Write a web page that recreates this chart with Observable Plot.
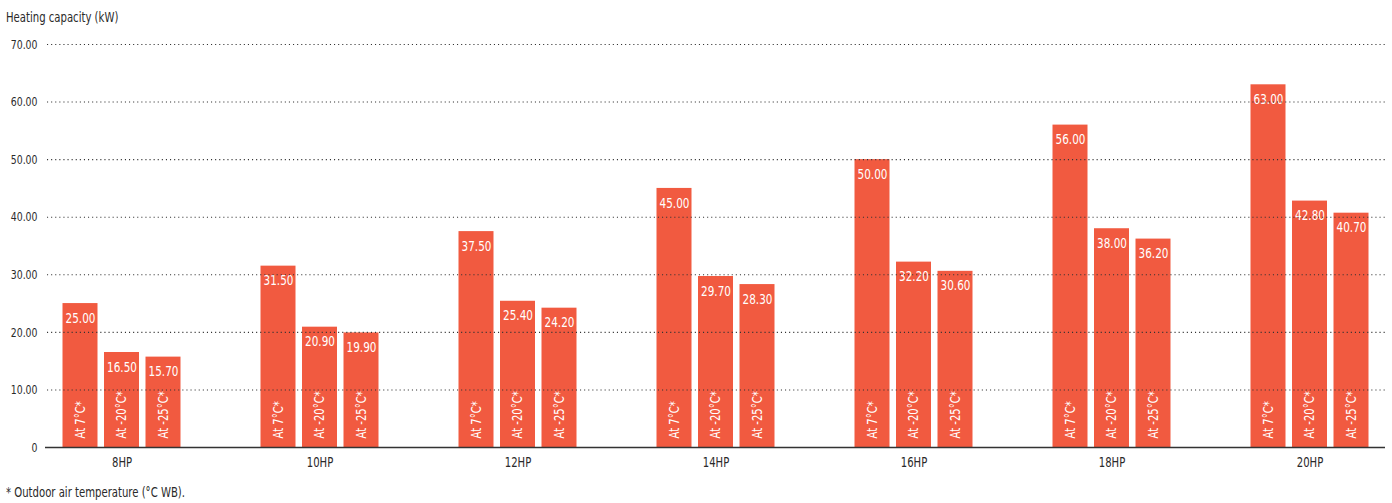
<!DOCTYPE html>
<html>
<head>
<meta charset="utf-8">
<script src="https://cdn.jsdelivr.net/npm/d3@7"></script>
<script src="https://cdn.jsdelivr.net/npm/@observablehq/plot@0.6"></script>
<style>
  html, body { margin: 0; padding: 0; background: #fff; }
  body { font-family: "DejaVu Sans Condensed", "DejaVu Sans", sans-serif; font-stretch: condensed; color: #2a2a2a; width: 1392px; }
  .title, .note { padding-left: 6px; font-size: 13.7px; white-space: nowrap; }
  .title { height: 30px; line-height: 34px; }
  .note { line-height: 16px; margin-top: 9px; }
  .narrow { display: inline-block; transform: scaleX(0.82); transform-origin: left center; }
  svg { display: block; }
  svg text { font-stretch: condensed; }
</style>
</head>
<body>
<div class="title"><span class="narrow">Heating capacity (kW)</span></div>
<div id="chart"></div>
<div class="note"><span class="narrow">* Outdoor air temperature (°C WB).</span></div>
<script>
// Heat pump models (horsepower classes)
const groups = ["8HP", "10HP", "12HP", "14HP", "16HP", "18HP", "20HP"];
// Outdoor temperature conditions
const temps = ["At 7°C*", "At -20°C*", "At -25°C*"];
// Heating capacity in kW per condition
const at7 = [25.0, 31.5, 37.5, 45.0, 50.0, 56.0, 63.0];
const atMinus20 = [16.5, 20.9, 25.4, 29.7, 32.2, 38.0, 42.8];
const atMinus25 = [15.7, 19.9, 24.2, 28.3, 30.6, 36.2, 40.7];
// Y axis ticks
const yTicks = [0, 10, 20, 30, 40, 50, 60, 70];

const series = [at7, atMinus20, atMinus25];
// horizontal shift of each condition's bar from the model's center (px)
const offsets = [-41.5, 0, 41.5];
const barColor = "#f15a40";
const font = "\"DejaVu Sans Condensed\", \"DejaVu Sans\", sans-serif";

// one bar, value label and condition label per (model, condition)
const seriesMarks = temps.flatMap((t, j) => {
  const rows = groups.map((g, i) => ({group: g, temp: t, value: series[j][i]}));
  return [
    Plot.barY(rows, {x: "group", y: "value", fill: barColor, dx: offsets[j]}),
    Plot.text(rows, {
      x: "group", y: "value", text: d => d.value.toFixed(2),
      dx: offsets[j], dy: 14.5, fill: "white", fontSize: 14.5, lineAnchor: "middle"
    }),
    Plot.text(rows, {
      x: "group", y: 0, text: "temp",
      rotate: -90, textAnchor: "start", lineAnchor: "middle",
      dx: offsets[j], dy: -9, fill: "white", fontSize: 14
    })
  ];
});

const chart = Plot.plot({
  width: 1392,
  height: 445,
  marginTop: 14,
  marginBottom: 28,
  marginLeft: 45,
  marginRight: 7,
  style: {fontFamily: font, fontSize: "13px", color: "#2a2a2a", background: "#fff"},
  x: {domain: groups, paddingInner: 0.8237, paddingOuter: 0.282, label: null},
  y: {domain: [0, 70], label: null},
  marks: [
    ...seriesMarks,
    Plot.ruleY(yTicks.filter(d => d > 0), {
      insetLeft: 2, stroke: "#333", strokeWidth: 1.1, strokeDasharray: "1.1,3"
    }),
    Plot.ruleY([0], {stroke: "#333", strokeWidth: 1.5}),
    Plot.axisY({
      ticks: yTicks, tickSize: 0, tickPadding: 8, label: null, fontSize: 13,
      tickFormat: d => d === 0 ? "0" : d.toFixed(2)
    }),
    Plot.axisX({tickSize: 0, tickPadding: 10, label: null, fontSize: 14})
  ]
});

// condensed lettering: squeeze each label along its own baseline, about its anchor point
d3.select(chart).selectAll("text").each(function () {
  const el = d3.select(this);
  const t = el.attr("transform") || "";
  el.attr("transform", `${t} scale(0.8,1)`);
});

document.getElementById("chart").append(chart);
</script>
</body>
</html>
